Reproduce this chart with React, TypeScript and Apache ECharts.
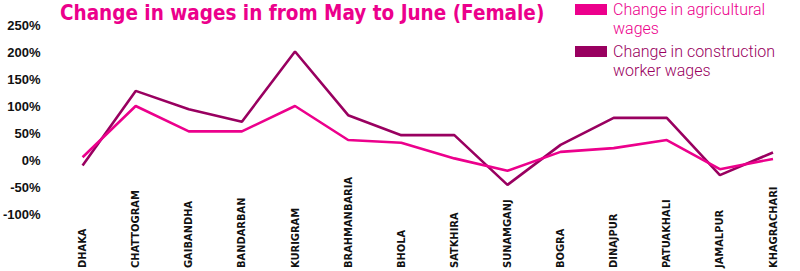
import React, { useEffect, useRef } from "react";
import * as echarts from "echarts";

const categories = [
  "DHAKA", "CHATTOGRAM", "GAIBANDHA", "BANDARBAN", "KURIGRAM", "BRAHMANBARIA", "BHOLA",
  "SATKHIRA", "SUNAMGANJ", "BOGRA", "DINAJPUR", "PATUAKHALI", "JAMALPUR", "KHAGRACHARI",
];
const agriculturalWages = [5, 100, 53, 53, 100, 37, 32, 3, -20, 15, 22, 37, -17, 2];
const constructionWages = [-10, 128, 94, 71, 201, 83, 46, 46, -46, 28, 78, 78, -28, 14];

const titleText = "Change in wages in from May to June (Female)";
const agriLegend = ["Change in agricultural", "wages"];
const consLegend = ["Change in construction", "worker wages"];

const PINK = "#EC008C";
const DARK = "#990060";
const NARROW = "'Liberation Sans Narrow', 'Arial Narrow', 'DejaVu Sans Condensed', sans-serif";
const LEGEND_FONT = "Roboto, 'Noto Sans', sans-serif";

export default function App() {
  const ref = useRef<HTMLDivElement>(null);
  useEffect(() => {
    document.body.style.margin = "0";
    const chart = echarts.init(ref.current!, null, { renderer: "svg" });
    const legendItem = (y: number, color: string, lines: string[]) => ({
      type: "group",
      left: 575,
      top: y,
      children: [
        { type: "rect", shape: { x: 0, y: 4, width: 32, height: 11 }, style: { fill: color } },
        {
          type: "text",
          x: 38,
          y: 0,
          style: {
            text: lines.join("\n"),
            fill: color,
            font: `300 16px ${LEGEND_FONT}`,
            lineHeight: 19,
            verticalAlign: "top",
          },
        },
      ],
    });
    chart.setOption({
      animation: false,
      backgroundColor: "#ffffff",
      title: {
        text: titleText,
        left: 60,
        top: 1,
        padding: 0,
        textStyle: {
          color: PINK,
          fontFamily: NARROW,
          fontWeight: "bold",
          fontSize: 20.5,
          lineHeight: 24,
        },
      },
      graphic: [legendItem(0, PINK, agriLegend), legendItem(42, DARK, consLegend)],
      grid: { left: 80, right: 27, top: 25, bottom: 56, containLabel: false },
      xAxis: {
        type: "category",
        data: categories,
        boundaryGap: false,
        axisLine: { show: false, onZero: false },
        axisTick: { show: false },
        splitLine: { show: false },
        axisLabel: {
          interval: 0,
          rotate: 90,
          align: "left",
          verticalAlign: "middle",
          margin: 54,
          color: "#111111",
          fontFamily: NARROW,
          fontWeight: "bold",
          fontSize: 11,
        },
      },
      yAxis: {
        type: "value",
        min: -100,
        max: 250,
        interval: 50,
        axisLine: { show: false },
        axisTick: { show: false },
        splitLine: { show: false },
        axisLabel: {
          formatter: "{value}%",
          margin: 42,
          color: "#111111",
          fontFamily: "'Liberation Sans', Arial, sans-serif",
          fontWeight: "bold",
          fontSize: 13,
        },
      },
      series: [
        {
          name: consLegend.join(" "),
          type: "line",
          data: constructionWages,
          showSymbol: false,
          symbol: "none",
          color: DARK,
          lineStyle: { color: DARK, width: 2.6 },
          z: 2,
        },
        {
          name: agriLegend.join(" "),
          type: "line",
          data: agriculturalWages,
          showSymbol: false,
          symbol: "none",
          color: PINK,
          lineStyle: { color: PINK, width: 2.6 },
          z: 3,
        },
      ],
    });
    return () => chart.dispose();
  }, []);
  return <div ref={ref} style={{ width: 800, height: 271 }} />;
}
